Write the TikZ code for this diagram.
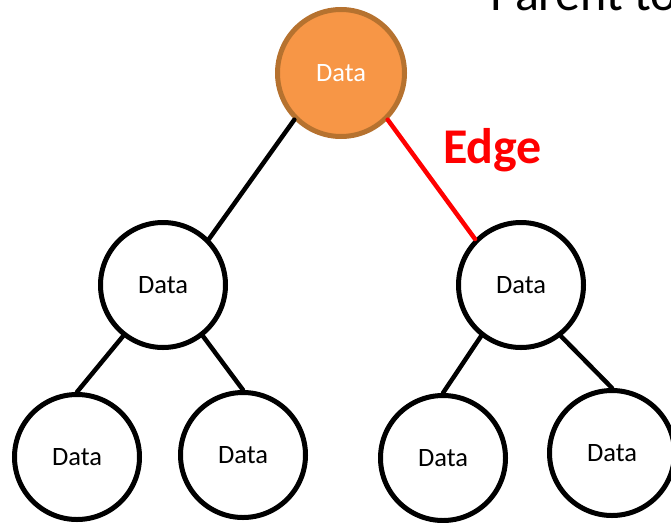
\documentclass[tikz,border=0pt]{standalone}
\usepackage{fontspec}
\setmainfont{Carlito}
\definecolor{rootfill}{HTML}{F79646}
\definecolor{rootline}{HTML}{B6722F}
\definecolor{edgered}{HTML}{FF0000}
\begin{document}
\begin{tikzpicture}[x=1pt,y=-1pt,
  datanode/.style={circle,draw=black,line width=5pt,minimum size=125pt,inner sep=0pt,font=\fontsize{26.5}{32}\selectfont},
  link/.style={line width=4.5pt,line cap=round}]
\useasboundingbox (0,0) rectangle (671,522);
\clip (0,0) rectangle (671,522);
% the tree
\node[datanode,fill=rootfill,draw=rootline,minimum size=127pt,text=white] (root) at (341,73) {Data};
\node[datanode] (lc) at (163,285) {Data};
\node[datanode] (rc) at (521,285) {Data};
\node[datanode] (ll) at (77,457) {Data};
\node[datanode] (lr) at (243,455) {Data};
\node[datanode] (rl) at (443,458) {Data};
\node[datanode] (rr) at (612,453) {Data};
\draw[link] (root.225) -- (lc.45);
\draw[link,edgered] (root.315) -- (rc.135);
\draw[link] (lc.232) -- (ll.north);
\draw[link] (lc.308) -- (lr.north);
\draw[link] (rc.232) -- (rl.north);
\draw[link] (rc.308) -- (rr.north);
% labels
\node[anchor=base west,inner sep=0pt,text=edgered,font=\fontsize{50}{60}\selectfont\bfseries] (edgelbl) at (443,163) {Edge};
\node[anchor=base west,inner sep=0pt,font=\fontsize{50}{60}\selectfont] (title) at (490,10) {Parent to};
\end{tikzpicture}
\end{document}
